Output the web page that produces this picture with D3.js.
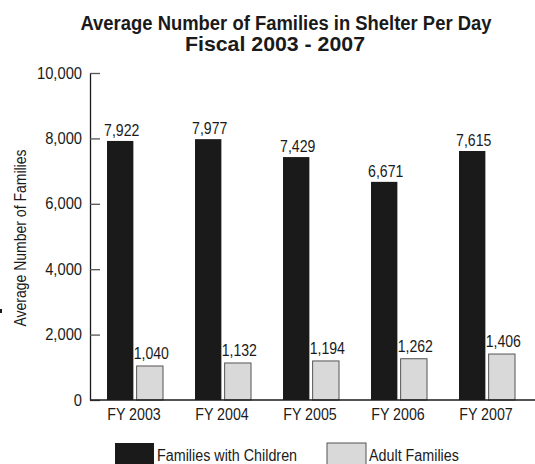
<!DOCTYPE html>
<html><head><meta charset="utf-8">
<script src="https://cdn.jsdelivr.net/npm/d3@7"></script>
<style>
body{margin:0;background:#fff;}
svg text{font-family:"Liberation Sans",Arial,sans-serif;fill:#1a1a1a;}
</style></head>
<body><svg id="c" width="535" height="464"></svg>
<script>
const categories = ["FY 2003","FY 2004","FY 2005","FY 2006","FY 2007"];
const familiesWithChildren = [7922,7977,7429,6671,7615];
const adultFamilies = [1040,1132,1194,1262,1406];
const seriesNames = ["Families with Children","Adult Families"];
const yTicks = [0,2000,4000,6000,8000,10000];
const titleLines = ["Average Number of Families in Shelter Per Day","Fiscal 2003 - 2007"];
const yTitle = "Average Number of Families";

(function(){
const colors = ["#1a1a1a","#d9d9d9"];
const svg = d3.select("#c");
const mLeft = 90, mRight = 530, mTop = 73, mBottom = 400;

function condense(sel, f){
  sel.each(function(){
    const w = this.getComputedTextLength();
    d3.select(this).attr("textLength", w*f).attr("lengthAdjust","spacingAndGlyphs");
  });
}

const x = d3.scaleBand().domain(categories).range([mLeft,mRight]);
const x1 = d3.scaleBand().domain([0,1]).range([17,17+56]).paddingInner(0.11);
const y = d3.scaleLinear().domain([0,10000]).range([mBottom,mTop]);

// title
svg.append("text").attr("x",286).attr("y",30).attr("text-anchor","middle")
  .style("font-weight","bold").style("font-size","20px").text(titleLines[0])
  .attr("textLength",411).attr("lengthAdjust","spacingAndGlyphs");
svg.append("text").attr("x",275).attr("y",51).attr("text-anchor","middle")
  .style("font-weight","bold").style("font-size","20px").text(titleLines[1])
  .attr("textLength",180).attr("lengthAdjust","spacingAndGlyphs");

// y axis title
svg.append("text").attr("transform","translate(26,238) rotate(-90)")
  .attr("text-anchor","middle").style("font-size","16px").text(yTitle)
  .attr("textLength",177).attr("lengthAdjust","spacingAndGlyphs");
svg.append("rect").attr("x",0).attr("y",309).attr("width",2).attr("height",4).attr("fill","#1a1a1a");

// bars
const series = [familiesWithChildren, adultFamilies];
series.forEach((vals,si)=>{
  const g = svg.append("g");
  g.selectAll("rect").data(vals).join("rect")
    .attr("x",(d,i)=>x(categories[i])+x1(si))
    .attr("y",d=>y(d))
    .attr("width",x1.bandwidth())
    .attr("height",d=>y(0)-y(d))
    .attr("fill",colors[si])
    .attr("stroke",si===1?"#555":"none")
    .attr("stroke-width",1);
  const t = g.selectAll("text").data(vals).join("text")
    .attr("x",(d,i)=>x(categories[i])+x1(si)+x1.bandwidth()/2+1.5)
    .attr("y",d=>y(d)-(si===0?5:7))
    .attr("text-anchor","middle").style("font-size","16px")
    .text(d=>d3.format(",")(d));
  condense(t, 0.88);
});

// y axis
const ya = svg.append("g").attr("transform",`translate(${mLeft},0)`)
  .call(d3.axisLeft(y).tickValues(yTicks).tickFormat(d3.format(",")).tickSizeInner(-10).tickSizeOuter(0).tickPadding(8));
ya.select(".domain").attr("stroke","#1a1a1a").attr("stroke-width",1.3);
ya.selectAll(".tick line").attr("stroke","#555").attr("stroke-width",1.3);
ya.selectAll(".tick text").style("font-size","16px").style("font-family",null).attr("fill","#1a1a1a");
ya.attr("font-family",null);
condense(ya.selectAll(".tick text"), 0.92);

// x axis
const xa = svg.append("g").attr("transform",`translate(0,${mBottom})`)
  .call(d3.axisBottom(x).tickSize(0).tickPadding(9));
xa.attr("font-family",null);
xa.select(".domain").attr("stroke","#1a1a1a").attr("stroke-width",1.3).attr("d",`M${mLeft},0H535`);
xa.selectAll(".tick text").style("font-size","16px").attr("fill","#1a1a1a").attr("dy","0.71em");
condense(xa.selectAll(".tick text"), 0.89);

// legend
const legX = [115,327];
seriesNames.forEach((n,i)=>{
  svg.append("rect").attr("x",legX[i]).attr("y",443).attr("width",39).attr("height",25)
    .attr("fill",colors[i]).attr("stroke",i===1?"#555":"none");
  const t = svg.append("text").attr("x",legX[i]+42).attr("y",461).style("font-size","16px").text(n);
  condense(t, 0.895);
});
})();
</script></body></html>
